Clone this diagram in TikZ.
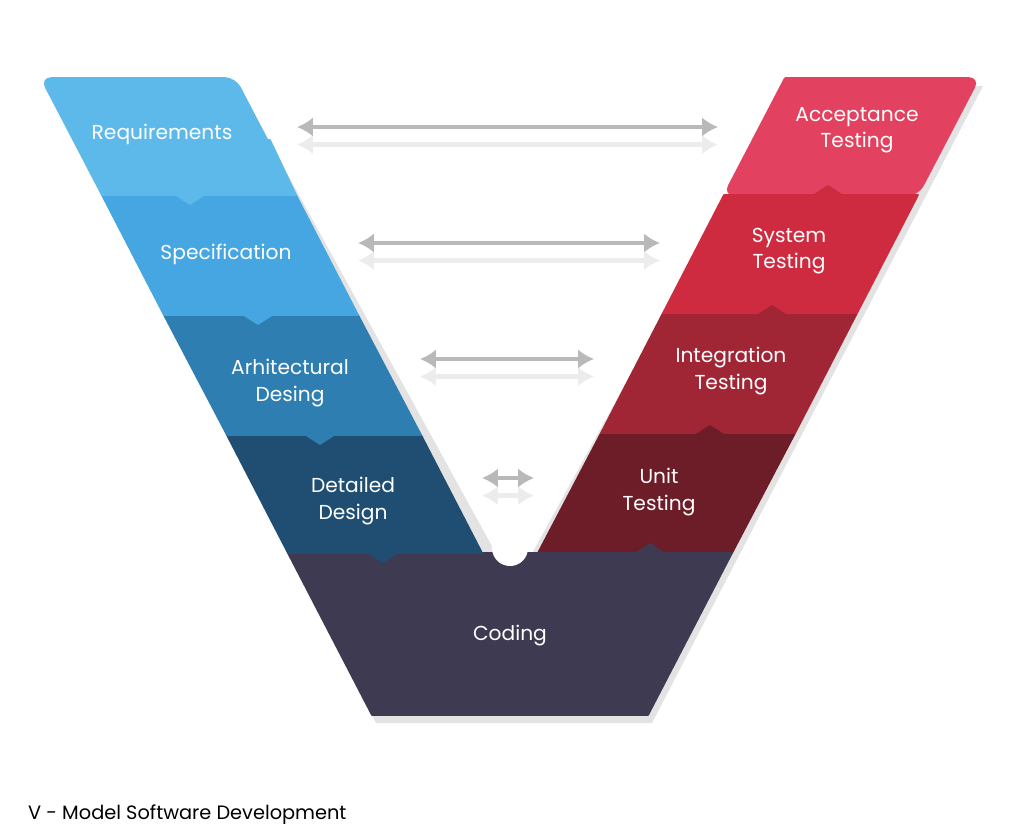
\documentclass[tikz,border=0pt]{standalone}
\usepackage{fontspec}
\setmainfont{Poppins}
\usepackage{tikz}
\usetikzlibrary{arrows.meta,positioning}
\definecolor{cReq}{HTML}{5DB9EA}
\definecolor{cSpec}{HTML}{45A6E2}
\definecolor{cArch}{HTML}{2F7EB2}
\definecolor{cDet}{HTML}{1F4E72}
\definecolor{cCod}{HTML}{3E3A51}
\definecolor{cAcc}{HTML}{E2425F}
\definecolor{cSys}{HTML}{CF2B40}
\definecolor{cInt}{HTML}{A02636}
\definecolor{cUnit}{HTML}{6C1D28}
\tikzstyle{band}=[draw=white, line width=1pt, line join=round]
\tikzstyle{lbl}=[text=white, align=center, font=\fontsize{11.5}{15}\selectfont]
\tikzstyle{arr}=[{Latex[length=9pt,width=11pt]}-{Latex[length=9pt,width=11pt]}, line width=2.5pt, draw=gray!55]
\tikzstyle{arrshade}=[line width=2.5pt, draw=gray!15, {Latex[length=9pt,width=11pt]}-{Latex[length=9pt,width=11pt]}]
\begin{document}
\begin{tikzpicture}[x=0.02cm,y=-0.02cm]
\useasboundingbox (0,0) rectangle (1024,838);
%Shadow
\fill[gray!22] (45,86)--(239,86)--(504,568)--(524,568)--(789,86)--(983,86)--(652,723)--(376,723)--cycle;
%Right arm
\fill[band,cAcc,rounded corners=6] (785,78)--(979,78)--(918,195)--(724,195)--(785,78);
\fill[band,cSys] (724,195)--(814,195)--(828,186)--(842,195)--(918,195)--(856,315)--(662,315)--cycle;
\fill[band,cInt] (662,315)--(758,315)--(772,306)--(786,315)--(856,315)--(794,435)--(600,435)--cycle;
\fill[band,cUnit] (600,435)--(696,435)--(710,426)--(724,435)--(794,435)--(732,553)--(538,553)--cycle;
%Coding
\fill[band,cCod] (288,553)--(636,553)--(650,544)--(664,553)--(732,553)--(648,715)--(372,715)--cycle;
%Left arm
\fill[band,cDet] (227,435)--(421,435)--(482,553)--(397,553)--(383,562)--(369,553)--(288,553)--cycle;
\fill[band,cArch] (164,315)--(358,315)--(421,435)--(334,435)--(320,444)--(306,435)--(227,435)--cycle;
\fill[band,cSpec] (102,195)--(296,195)--(358,315)--(272,315)--(258,324)--(244,315)--(164,315)--cycle;
\fill[band,cReq,rounded corners=6] (102,195)--(41,78)--(235,78)--(296,195);
\fill[band,cReq] (102,195)--(130,140)--(270,140)--(296,195)--(204,195)--(190,204)--(176,195)--cycle;
\fill[white] (510,548) circle (18);
%Labels
\node[lbl] (req) at (162,134) {Requirements};
\node[lbl] (spec) at (226,254) {Specification};
\node[lbl] (arch) at (290,383) {Arhitectural\\Desing};
\node[lbl] (det) at (353,501) {Detailed\\Design};
\node[lbl] (cod) at (510,636) {Coding};
\node[lbl] (acc) at (857,130) {Acceptance\\Testing};
\node[lbl] (sys) at (789,251) {System\\Testing};
\node[lbl] (int) at (731,371) {Integration\\Testing};
\node[lbl] (unit) at (659,492) {Unit\\Testing};
%Arrows
\coordinate (a1l) at (297,127); \coordinate (a1r) at (718,127);
\coordinate (a2l) at (358,243); \coordinate (a2r) at (660,243);
\coordinate (a3l) at (420,359); \coordinate (a3r) at (594,359);
\coordinate (a4l) at (482,478); \coordinate (a4r) at (534,478);
\draw[arrshade] ([yshift=-10]a1l) -- ([yshift=-10]a1r);
\draw[arrshade] ([yshift=-10]a2l) -- ([yshift=-10]a2r);
\draw[arrshade] ([yshift=-10]a3l) -- ([yshift=-10]a3r);
\draw[arrshade] ([yshift=-10]a4l) -- ([yshift=-10]a4r);
\draw[arr] (a1l) -- (a1r);
\draw[arr] (a2l) -- (a2r);
\draw[arr] (a3l) -- (a3r);
\draw[arr] (a4l) -- (a4r);
%Title
\node[anchor=west, font=\fontsize{11}{13}\selectfont] (title) at (22,815) {V - Model Software Development};
\end{tikzpicture}
\end{document}
